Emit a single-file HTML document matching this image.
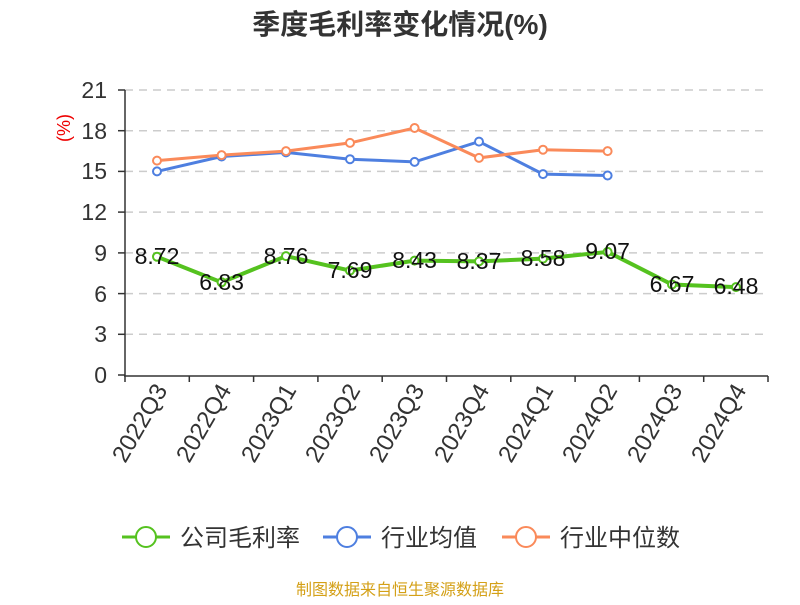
<!DOCTYPE html><html><head><meta charset="utf-8"><style>body{margin:0;background:#fff}svg{font-family:"Liberation Sans","Noto Sans CJK SC",sans-serif}</style></head><body>
<svg width="800" height="600" xmlns="http://www.w3.org/2000/svg">
<text x="400" y="34" text-anchor="middle" font-size="28" font-weight="bold" fill="#333">季度毛利率变化情况(%)</text>
<g stroke="#ccc" stroke-dasharray="8,6" stroke-width="1.5">
<line x1="125" x2="768" y1="90" y2="90"/><line x1="125" x2="768" y1="130.7" y2="130.7"/><line x1="125" x2="768" y1="171.4" y2="171.4"/><line x1="125" x2="768" y1="212.1" y2="212.1"/><line x1="125" x2="768" y1="252.9" y2="252.9"/><line x1="125" x2="768" y1="293.6" y2="293.6"/><line x1="125" x2="768" y1="334.3" y2="334.3"/>
</g>
<g stroke="#333" stroke-width="1.5">
<line x1="125" y1="90" x2="125" y2="376"/><line x1="124" y1="376" x2="768" y2="376"/>
<line x1="118" x2="125" y1="90" y2="90"/><line x1="118" x2="125" y1="130.7" y2="130.7"/><line x1="118" x2="125" y1="171.4" y2="171.4"/><line x1="118" x2="125" y1="212.1" y2="212.1"/><line x1="118" x2="125" y1="252.9" y2="252.9"/><line x1="118" x2="125" y1="293.6" y2="293.6"/><line x1="118" x2="125" y1="334.3" y2="334.3"/><line x1="118" x2="125" y1="375" y2="375"/>
<line x1="125" x2="125" y1="376" y2="382"/><line x1="189.3" x2="189.3" y1="376" y2="382"/><line x1="253.6" x2="253.6" y1="376" y2="382"/><line x1="317.9" x2="317.9" y1="376" y2="382"/><line x1="382.2" x2="382.2" y1="376" y2="382"/><line x1="446.5" x2="446.5" y1="376" y2="382"/><line x1="510.8" x2="510.8" y1="376" y2="382"/><line x1="575.1" x2="575.1" y1="376" y2="382"/><line x1="639.4" x2="639.4" y1="376" y2="382"/><line x1="703.7" x2="703.7" y1="376" y2="382"/><line x1="768" x2="768" y1="376" y2="382"/>
</g>
<g font-size="23" fill="#333" text-anchor="end">
<text x="107" y="98">21</text><text x="107" y="139">18</text><text x="107" y="179">15</text><text x="107" y="220">12</text><text x="107" y="261">9</text><text x="107" y="302">6</text><text x="107" y="342">3</text><text x="107" y="383">0</text>
</g>
<text transform="translate(70,128) rotate(-90)" text-anchor="middle" font-size="18" fill="#e00">(%)</text>
<g font-size="24" fill="#333" text-anchor="end">
<text transform="translate(168,390) rotate(-60)">2022Q3</text><text transform="translate(232,390) rotate(-60)">2022Q4</text><text transform="translate(297,390) rotate(-60)">2023Q1</text><text transform="translate(361,390) rotate(-60)">2023Q2</text><text transform="translate(425,390) rotate(-60)">2023Q3</text><text transform="translate(490,390) rotate(-60)">2023Q4</text><text transform="translate(554,390) rotate(-60)">2024Q1</text><text transform="translate(618,390) rotate(-60)">2024Q2</text><text transform="translate(683,390) rotate(-60)">2024Q3</text><text transform="translate(747,390) rotate(-60)">2024Q4</text>
</g>
<polyline fill="none" stroke="#4e7fe0" stroke-width="3" points="157,171.4 221.6,156.5 286,152.4 350,159.2 414.6,161.9 479,141.6 543,174.1 607.6,175.5"/>
<polyline fill="none" stroke="#fa8a5a" stroke-width="3" points="157,160.6 221.6,155.1 286,151.1 350,142.9 414.6,128 479,157.9 543,149.7 607.6,151.1"/>
<polyline fill="none" stroke="#55c21f" stroke-width="4" points="157,256.7 221.6,282.3 286,256.1 350,270.6 414.6,260.6 479,261.4 543,258.6 607.6,251.9 672,284.5 736,287.1"/>
<g fill="#fff" stroke="#4e7fe0" stroke-width="2">
<circle cx="157" cy="171.4" r="4"/><circle cx="221.6" cy="156.5" r="4"/><circle cx="286" cy="152.4" r="4"/><circle cx="350" cy="159.2" r="4"/><circle cx="414.6" cy="161.9" r="4"/><circle cx="479" cy="141.6" r="4"/><circle cx="543" cy="174.1" r="4"/><circle cx="607.6" cy="175.5" r="4"/></g>
<g fill="#fff" stroke="#fa8a5a" stroke-width="2">
<circle cx="157" cy="160.6" r="4"/><circle cx="221.6" cy="155.1" r="4"/><circle cx="286" cy="151.1" r="4"/><circle cx="350" cy="142.9" r="4"/><circle cx="414.6" cy="128" r="4"/><circle cx="479" cy="157.9" r="4"/><circle cx="543" cy="149.7" r="4"/><circle cx="607.6" cy="151.1" r="4"/></g>
<g fill="#fff" stroke="#55c21f" stroke-width="2">
<circle cx="157" cy="256.7" r="4"/><circle cx="221.6" cy="282.3" r="4"/><circle cx="286" cy="256.1" r="4"/><circle cx="350" cy="270.6" r="4"/><circle cx="414.6" cy="260.6" r="4"/><circle cx="479" cy="261.4" r="4"/><circle cx="543" cy="258.6" r="4"/><circle cx="607.6" cy="251.9" r="4"/><circle cx="672" cy="284.5" r="4"/><circle cx="736" cy="287.1" r="4"/></g>
<g font-size="23" fill="#111" text-anchor="middle">
<text x="157" y="264">8.72</text><text x="221.6" y="290">6.83</text><text x="286" y="264">8.76</text><text x="350" y="278">7.69</text><text x="414.6" y="268">8.43</text><text x="479" y="269">8.37</text><text x="543" y="266">8.58</text><text x="607.6" y="259">9.07</text><text x="672" y="292">6.67</text><text x="736" y="294">6.48</text>
</g>
<g font-size="24" fill="#333">
<line x1="122" x2="170" y1="537" y2="537" stroke="#55c21f" stroke-width="3"/><circle cx="146" cy="537" r="10" fill="#fff" stroke="#55c21f" stroke-width="2"/><text x="180" y="546">公司毛利率</text>
<line x1="323" x2="371" y1="537" y2="537" stroke="#4e7fe0" stroke-width="3"/><circle cx="347" cy="537" r="10" fill="#fff" stroke="#4e7fe0" stroke-width="2"/><text x="381" y="546">行业均值</text>
<line x1="502" x2="550" y1="537" y2="537" stroke="#fa8a5a" stroke-width="3"/><circle cx="526" cy="537" r="10" fill="#fff" stroke="#fa8a5a" stroke-width="2"/><text x="560" y="546">行业中位数</text>
</g>
<text x="400" y="595" text-anchor="middle" font-size="16" fill="#d4a017">制图数据来自恒生聚源数据库</text>
</svg></body></html>
